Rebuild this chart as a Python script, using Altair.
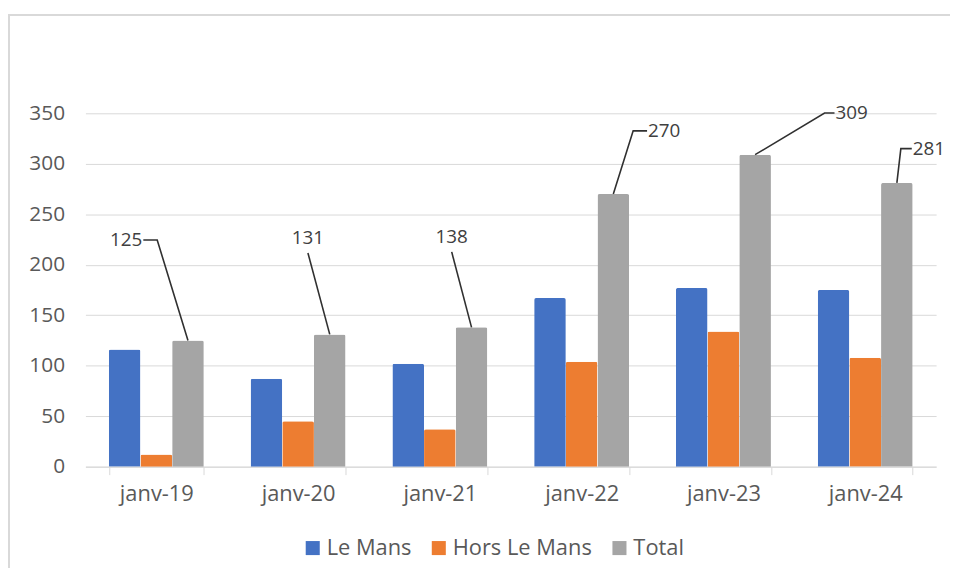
import altair as alt
import pandas as pd

# ---- data ----
categories = ["janv-19", "janv-20", "janv-21", "janv-22", "janv-23", "janv-24"]
series = ["Le Mans", "Hors Le Mans", "Total"]
le_mans = [116, 87, 102, 167, 177, 175]
hors_le_mans = [12, 45, 37, 104, 134, 108]
total = [125, 131, 138, 270, 309, 281]
colors = ["#4472C4", "#ED7D31", "#A5A5A5"]

# ---- manual placement of the "Total" data labels (as laid out in the source) ----
label_y = [224.5, 211.7, 212.7, 332.6, 350.3, 315]   # leader end (data units)
text_y = [224.5, 226.5, 227.5, 332.6, 350.3, 315]    # label text centre (data units)
elbow_px = [-31, -22, -20, 20, 70, 4]                  # leader end offset from bar centre
hook_px = [-14, 0, 0, 14, 10, 11]                      # horizontal hook length

W, H = 857, 356
PAD_INNER = 0.33
FONT = "Open Sans"
step = W / len(categories)
g = (1 - PAD_INNER) / 3  # centre of the Total bar relative to category centre (category units)

bars_df = pd.DataFrame(
    [{"cat": c, "series": s, "value": v}
     for s, vals in zip(series, [le_mans, hors_le_mans, total])
     for c, v in zip(categories, vals)]
)

line_rows, text_rows = [], []
for i, t in enumerate(total):
    cx = i + 0.5 + g
    ex = cx + elbow_px[i] / step
    line_rows.append({"id": i, "ord": 0, "px": cx, "py": t})
    line_rows.append({"id": i, "ord": 1, "px": ex, "py": label_y[i]})
    if hook_px[i] != 0:
        hx = ex + hook_px[i] / step
        line_rows.append({"id": i, "ord": 2, "px": hx, "py": label_y[i]})
        sgn = 1 if hook_px[i] > 0 else -1
        text_rows.append({"px": hx + sgn * 1 / step, "py": text_y[i], "label": str(t),
                          "align": "left" if sgn > 0 else "right"})
    else:
        text_rows.append({"px": ex, "py": text_y[i], "label": str(t), "align": "center"})
lines_df = pd.DataFrame(line_rows)
text_df = pd.DataFrame(text_rows)

yscale = alt.Scale(domain=[0, 350], nice=False)
xq = alt.Scale(domain=[0, len(categories)], nice=False, zero=False)

bars = alt.Chart(bars_df).mark_bar(cornerRadiusTopLeft=2, cornerRadiusTopRight=2).encode(
    x=alt.X("cat:N", sort=categories,
            scale=alt.Scale(paddingInner=PAD_INNER, paddingOuter=PAD_INNER / 2),
            axis=alt.Axis(title=None, labelAngle=0, tickBand="extent", domainColor="#d9d9d9",
                          tickColor="#d9d9d9", tickSize=8, labelFontSize=22, labelFont=FONT,
                          labelColor="#595959", labelPadding=9, grid=False)),
    xOffset=alt.XOffset("series:N", sort=series,
                        scale=alt.Scale(domain=series, paddingInner=0, paddingOuter=0)),
    y=alt.Y("value:Q", scale=yscale,
            axis=alt.Axis(title=None, values=list(range(0, 351, 50)), grid=True,
                          gridColor="#d9d9d9", domain=False, ticks=False, labelPadding=21,
                          labelFontSize=21, labelFont=FONT, labelColor="#595959")),
    color=alt.Color("series:N", scale=alt.Scale(domain=series, range=colors),
                    legend=alt.Legend(title=None, orient="none", legendX=218, legendY=427,
                                      direction="horizontal", symbolType="square",
                                      symbolSize=200, symbolStrokeWidth=0, labelFontSize=22,
                                      labelFont=FONT, labelColor="#595959", labelOffset=3,
                                      columnPadding=16)),
)

leaders = alt.Chart(lines_df).mark_line(color="#303030", strokeWidth=1.6).encode(
    x=alt.X("px:Q", scale=xq, axis=None),
    y=alt.Y("py:Q", scale=yscale, axis=None),
    detail="id:N",
    order="ord:Q",
)

def text_layer(align):
    return alt.Chart(text_df).transform_filter(alt.datum.align == align).mark_text(
        align=align, baseline="middle", fontSize=19, font=FONT, color="#404040"
    ).encode(
        x=alt.X("px:Q", scale=xq, axis=None),
        y=alt.Y("py:Q", scale=yscale, axis=None),
        text="label:N",
    )

frame_df = pd.DataFrame({"k": [0]})
frame_top = alt.Chart(frame_df).mark_rule(color="#d9d9d9", strokeWidth=2).encode(
    x=alt.value(-78), x2=alt.value(W + 14), y=alt.value(-99))
frame_left = alt.Chart(frame_df).mark_rule(color="#d9d9d9", strokeWidth=2).encode(
    x=alt.value(-77), y=alt.value(-99), y2=alt.value(H + 120))

chart = alt.layer(
    frame_top, frame_left, bars, leaders,
    text_layer("left"), text_layer("right"), text_layer("center")
).resolve_scale(x="independent").resolve_axis(y="independent").properties(
    width=W, height=H,
    autosize=alt.AutoSizeParams(type="none"),
    padding={"left": 78, "top": 104, "right": 14, "bottom": 100},
    background="white",
).configure_view(stroke=None)

chart.save("out.html", embed_options={"renderer": "svg", "actions": False})
